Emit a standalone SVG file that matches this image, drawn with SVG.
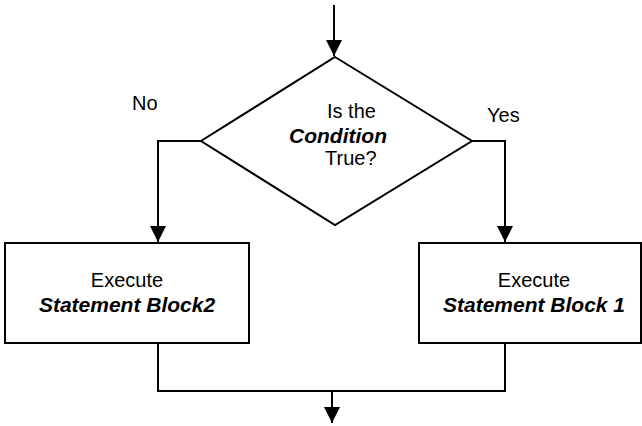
<svg xmlns="http://www.w3.org/2000/svg" width="642" height="426" viewBox="0 0 642 426">
<style>
.shape{fill:#fff;stroke:#000;stroke-width:2}
.wire{fill:none;stroke:#000;stroke-width:2}
.t{font-family:"Liberation Sans",Arial,sans-serif;font-size:20px;fill:#000}
.bi{font-weight:bold;font-style:italic;font-size:21px}
</style>
<defs>
<marker id="ah" markerUnits="userSpaceOnUse" markerWidth="16" markerHeight="16" viewBox="0 0 16 16" refX="16" refY="8" orient="auto">
<path d="M0,0 L16,8 L0,16 Z" fill="#000"/>
</marker>
</defs>
<rect width="642" height="426" fill="#fff"/>
<g id="connectors">
<path class="wire" d="M334,5 V56" marker-end="url(#ah)"/>
<path class="wire" d="M201,141 H158 V242" marker-end="url(#ah)"/>
<path class="wire" d="M472,141 H505 V242" marker-end="url(#ah)"/>
<path class="wire" d="M158,343 V391 H505 V343"/>
<path class="wire" d="M332,391 V423" marker-end="url(#ah)"/>
<text class="t" x="132" y="110">No</text>
<text class="t" x="487" y="122">Yes</text>
</g>
<g id="decision">
<polygon class="shape" points="335,57 472,141 335,225 201,141"/>
<text class="t" x="327" y="118">Is the</text>
<text class="t bi" x="289" y="143">Condition</text>
<text class="t" x="325" y="165">True?</text>
</g>
<g id="block2">
<rect class="shape" x="5" y="243" width="244" height="100"/>
<text class="t" x="127" y="287" text-anchor="middle">Execute</text>
<text class="t bi" x="127" y="312" text-anchor="middle">Statement Block2</text>
</g>
<g id="block1">
<rect class="shape" x="419" y="243" width="222" height="100"/>
<text class="t" x="534" y="287" text-anchor="middle">Execute</text>
<text class="t bi" x="534" y="312" text-anchor="middle">Statement Block 1</text>
</g>
</svg>
